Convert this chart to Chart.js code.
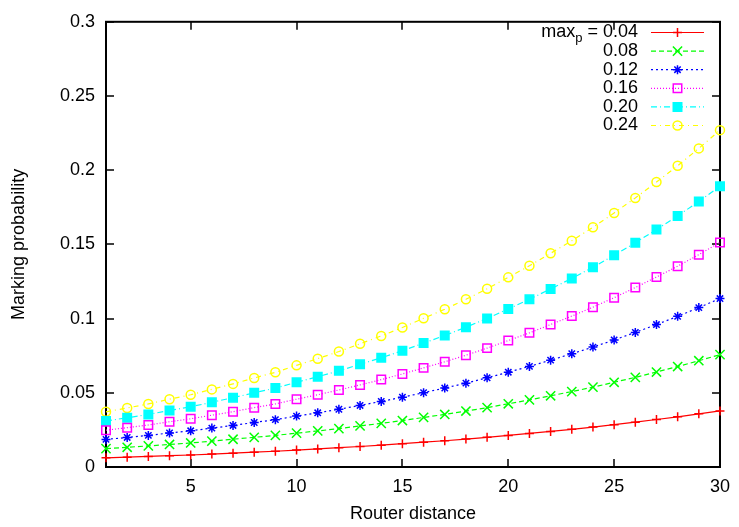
<!DOCTYPE html>
<html>
<head>
<meta charset="utf-8">
<script src="https://cdn.jsdelivr.net/npm/chart.js@4/dist/chart.umd.min.js"></script>
<style>
body { margin: 0; background: #fff; }
canvas { display: block; }
</style>
</head>
<body>
<canvas id="graphCanvas" width="739" height="527"></canvas>
<script>
// router distance (x) and marking probability per max_p
var distance = [1, 2, 3, 4, 5, 6, 7, 8, 9, 10, 11, 12, 13, 14, 15,
                16, 17, 18, 19, 20, 21, 22, 23, 24, 25, 26, 27, 28, 29, 30];

var p004 = [0.0062, 0.0066, 0.0071, 0.0076, 0.0081, 0.0087, 0.0093, 0.0100, 0.0106, 0.0114,
            0.0122, 0.0130, 0.0138, 0.0147, 0.0157, 0.0167, 0.0177, 0.0188, 0.0200, 0.0213,
            0.0226, 0.0240, 0.0254, 0.0269, 0.0285, 0.0302, 0.0320, 0.0338, 0.0358, 0.0378];
var p008 = [0.0124, 0.0133, 0.0142, 0.0152, 0.0162, 0.0174, 0.0187, 0.0200, 0.0213, 0.0228,
            0.0243, 0.0259, 0.0277, 0.0294, 0.0313, 0.0334, 0.0354, 0.0377, 0.0400, 0.0426,
            0.0452, 0.0480, 0.0508, 0.0538, 0.0571, 0.0604, 0.0640, 0.0677, 0.0716, 0.0757];
var p012 = [0.0186, 0.0199, 0.0213, 0.0229, 0.0244, 0.0262, 0.0280, 0.0300, 0.0319, 0.0343,
            0.0365, 0.0389, 0.0415, 0.0442, 0.0470, 0.0501, 0.0532, 0.0565, 0.0601, 0.0639,
            0.0678, 0.0720, 0.0763, 0.0808, 0.0856, 0.0907, 0.0960, 0.1015, 0.1074, 0.1135];
var p016 = [0.0248, 0.0265, 0.0283, 0.0305, 0.0325, 0.0349, 0.0373, 0.0400, 0.0425, 0.0457,
            0.0487, 0.0519, 0.0553, 0.0589, 0.0627, 0.0668, 0.0709, 0.0753, 0.0801, 0.0852,
            0.0904, 0.0960, 0.1017, 0.1077, 0.1141, 0.1209, 0.1280, 0.1353, 0.1431, 0.1513];
var p020 = [0.0310, 0.0332, 0.0354, 0.0381, 0.0406, 0.0436, 0.0467, 0.0500, 0.0532, 0.0571,
            0.0608, 0.0648, 0.0692, 0.0736, 0.0783, 0.0835, 0.0886, 0.0942, 0.1001, 0.1065,
            0.1130, 0.1200, 0.1271, 0.1346, 0.1427, 0.1511, 0.1600, 0.1692, 0.1789, 0.1892];
var p024 = [0.0372, 0.0398, 0.0425, 0.0457, 0.0487, 0.0523, 0.0560, 0.0600, 0.0638, 0.0685,
            0.0730, 0.0778, 0.0830, 0.0883, 0.0940, 0.1002, 0.1063, 0.1130, 0.1201, 0.1278,
            0.1356, 0.1440, 0.1525, 0.1615, 0.1712, 0.1813, 0.1920, 0.2030, 0.2147, 0.2270];

var maxpLabels = ['0.04', '0.08', '0.12', '0.16', '0.20', '0.24'];
var xTicks = [5, 10, 15, 20, 25, 30];
var yTicks = [0, 0.05, 0.1, 0.15, 0.2, 0.25, 0.3];
var yTickLabels = ['0', '0.05', '0.1', '0.15', '0.2', '0.25', '0.3'];

var FONT = 'Liberation Sans';
var FSIZE = 18;

function pts(arr) {
    return arr.map(function (v, i) { return {x: distance[i], y: v}; });
}

function series(values, color, dash, style, radius, fill) {
    return {
        data: pts(values),
        borderColor: color,
        borderWidth: 1.2,
        borderDash: dash,
        backgroundColor: fill,
        pointStyle: style,
        pointRadius: radius,
        pointBorderColor: color,
        pointBackgroundColor: fill,
        pointBorderWidth: 1.5,
        tension: 0,
        clip: false
    };
}

var chartdata = {
    datasets: [
        series(p004, '#ff0000', [], 'cross', 4.5, 'rgba(0,0,0,0)'),
        series(p008, '#00ff00', [5, 3], 'crossRot', 6.5, 'rgba(0,0,0,0)'),
        series(p012, '#0000ff', [2, 3], 'star', 4.5, 'rgba(0,0,0,0)'),
        series(p016, '#ff00ff', [1, 2], 'rect', 6, 'rgba(0,0,0,0)'),
        series(p020, '#00ffff', [6, 3, 1, 3], 'rect', 6, '#00ffff'),
        series(p024, '#ffff00', [5, 4, 1, 4], 'circle', 4.5, 'rgba(0,0,0,0)')
    ]
};

// gnuplot style border with ticks pointing inwards
var framePlugin = {
    id: 'frame',
    beforeDatasetsDraw: function (chart) {
        var ctx = chart.ctx, a = chart.chartArea;
        var xs = chart.scales.x, ys = chart.scales.y;
        ctx.save();
        ctx.strokeStyle = '#000';
        ctx.lineWidth = 1.5;
        ctx.beginPath();
        xTicks.forEach(function (v) {
            var px = Math.round(xs.getPixelForValue(v));
            ctx.moveTo(px, a.bottom); ctx.lineTo(px, a.bottom - 8);
            ctx.moveTo(px, a.top); ctx.lineTo(px, a.top + 8);
        });
        yTicks.forEach(function (v) {
            var py = Math.round(ys.getPixelForValue(v));
            ctx.moveTo(a.left, py); ctx.lineTo(a.left + 8, py);
            ctx.moveTo(a.right, py); ctx.lineTo(a.right - 8, py);
        });
        ctx.stroke();
        ctx.lineWidth = 2;
        ctx.strokeRect(a.left, a.top, a.right - a.left, a.bottom - a.top);
        ctx.restore();
    }
};

// key in the top right corner, text right aligned then a line sample
var keyPlugin = {
    id: 'key',
    afterDatasetsDraw: function (chart) {
        var ctx = chart.ctx;
        var textRight = 638, lineL = 651, lineR = 704, rowY = 32.5, step = 18.6;
        var big = FSIZE + 'px "' + FONT + '"';
        var small = Math.round(FSIZE * 0.72) + 'px "' + FONT + '"';
        ctx.save();
        chart.data.datasets.forEach(function (ds, i) {
            var y = rowY + i * step;
            ctx.fillStyle = '#000';
            ctx.textBaseline = 'middle';
            ctx.textAlign = 'right';
            ctx.font = big;
            var txt = i === 0 ? ' = ' + maxpLabels[i] : maxpLabels[i];
            ctx.fillText(txt, textRight, y);
            if (i === 0) {
                var x = textRight - ctx.measureText(txt).width;
                ctx.font = small;
                ctx.fillText('p', x, y + 6);
                x -= ctx.measureText('p').width;
                ctx.font = big;
                ctx.fillText('max', x, y);
            }
            ctx.strokeStyle = ds.borderColor;
            ctx.lineWidth = ds.borderWidth;
            ctx.setLineDash(ds.borderDash);
            ctx.beginPath();
            ctx.moveTo(lineL, y);
            ctx.lineTo(lineR, y);
            ctx.stroke();
            ctx.setLineDash([]);
            ctx.lineWidth = ds.pointBorderWidth;
            ctx.fillStyle = ds.pointBackgroundColor;
            Chart.helpers.drawPoint(ctx, {
                pointStyle: ds.pointStyle,
                radius: ds.pointRadius,
                rotation: 0,
                borderWidth: ds.pointBorderWidth
            }, (lineL + lineR) / 2, y);
        });
        ctx.restore();
    }
};

var tickFont = {family: FONT, size: FSIZE};

var pieTarget = document.getElementById('graphCanvas');
var lineGraph = new Chart(pieTarget, {
    type: 'line',
    data: chartdata,
    plugins: [framePlugin, keyPlugin],
    options: {
        responsive: false,
        animation: false,
        events: [],
        layout: {padding: {top: 15, right: 12, left: 0, bottom: 0}},
        plugins: {
            legend: {display: false},
            tooltip: {enabled: false}
        },
        scales: {
            x: {
                type: 'linear',
                min: 1,
                max: 30,
                afterBuildTicks: function (scale) {
                    scale.ticks = xTicks.map(function (v) { return {value: v}; });
                },
                afterFit: function (scale) { scale.height = 60; },
                grid: {display: false, drawTicks: false},
                border: {display: false},
                ticks: {color: '#000', font: tickFont, padding: 9, maxRotation: 0, autoSkip: false},
                title: {display: true, text: 'Router distance', color: '#000', font: tickFont,
                        padding: {top: 0, bottom: 2}}
            },
            y: {
                type: 'linear',
                min: 0,
                max: 0.3,
                afterBuildTicks: function (scale) {
                    scale.ticks = yTicks.map(function (v) { return {value: v}; });
                },
                afterFit: function (scale) { scale.width = 106; },
                grid: {display: false, drawTicks: false},
                border: {display: false},
                ticks: {
                    color: '#000', font: tickFont, padding: 11, autoSkip: false,
                    callback: function (value) {
                        var i = yTicks.indexOf(value);
                        return i >= 0 ? yTickLabels[i] : '';
                    }
                },
                title: {display: true, text: 'Marking probability', color: '#000', font: tickFont,
                        padding: {top: 8, bottom: 0}}
            }
        }
    }
});
</script>
</body>
</html>
